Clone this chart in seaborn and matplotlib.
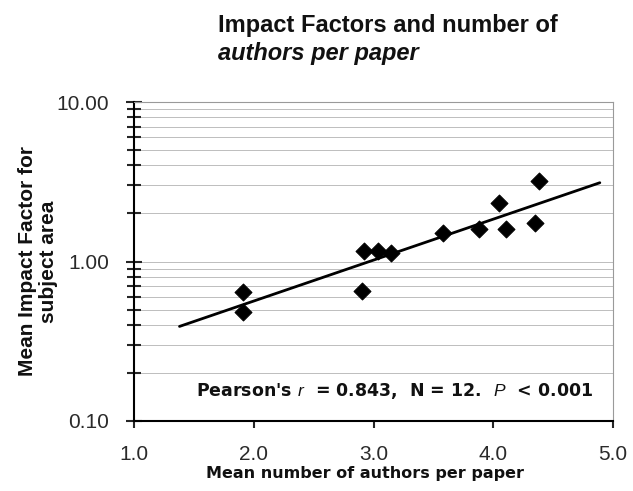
import numpy as np
import pandas as pd
import matplotlib
matplotlib.use('Agg')
import matplotlib.pyplot as plt
import matplotlib.ticker as mticker
import seaborn as sns

# DATA
authors = [1.91, 1.91, 2.92, 3.04, 3.15, 2.90, 3.58, 3.88, 4.05, 4.11, 4.35, 4.38]
impact = [0.64, 0.48, 1.16, 1.16, 1.13, 0.65, 1.50, 1.59, 2.33, 1.60, 1.75, 3.19]
fit_range = [1.38, 4.89]  # extent of the drawn regression line
xticks = [1.0, 2.0, 3.0, 4.0, 5.0]
xtick_labels = ['1.0', '2.0', '3.0', '4.0', '5.0']
yticks = [0.1, 1.0, 10.0]
ytick_labels = ['0.10', '1.00', '10.00']
stats_text = "Pearson's $\\it{r}$  = 0.843,  N = 12.  $\\it{P}$  < 0.001"

df = pd.DataFrame({'authors': authors, 'impact': impact})

# exponential fit (straight line on the log axis)
slope, icpt = np.polyfit(df['authors'], np.log10(df['impact']), 1)
fit_x = np.array(fit_range)
df_fit = pd.DataFrame({'authors': fit_x, 'impact': 10 ** (icpt + slope * fit_x)})

sns.set_theme(style='white')
plt.rcParams['font.family'] = ['Liberation Sans', 'DejaVu Sans']
plt.rcParams['mathtext.fontset'] = 'custom'
plt.rcParams['mathtext.it'] = 'Liberation Sans:italic'
plt.rcParams['mathtext.rm'] = 'DejaVu Sans:bold'

fig, ax = plt.subplots(figsize=(6.33, 4.91), dpi=100)
fig.subplots_adjust(left=134/633, right=613/633, top=1-102/491, bottom=1-421/491)

ax.set_yscale('log')
ax.set_xlim(1, 5)
ax.set_ylim(0.1, 10)

# gridlines at every major/minor y tick
ax.yaxis.set_minor_locator(mticker.LogLocator(base=10, subs=np.arange(2, 10)))
ax.grid(axis='y', which='both', color='#bdbdbd', linewidth=0.7, linestyle='-')
ax.grid(axis='x', visible=False)
ax.set_axisbelow(True)

sns.lineplot(data=df_fit, x='authors', y='impact', ax=ax, color='black', linewidth=2)
sns.scatterplot(data=df, x='authors', y='impact', ax=ax, marker='D', s=75,
                color='black', edgecolor='black', zorder=3)

ax.set_xticks(xticks)
ax.set_xticklabels(xtick_labels)
ax.set_yticks(yticks)
ax.yaxis.set_major_formatter(mticker.FixedFormatter(ytick_labels))
ax.yaxis.set_minor_formatter(mticker.NullFormatter())

ax.tick_params(axis='x', which='major', direction='out', length=5, width=1.5,
               pad=12, labelsize=15, labelcolor='#2a2a2a', bottom=True)
ax.tick_params(axis='y', which='major', direction='inout', length=12, width=1.5,
               pad=12, labelsize=15, labelcolor='#2a2a2a', left=True)
ax.tick_params(axis='y', which='minor', direction='inout', length=10, width=1.5, left=True)

for s in ['left', 'bottom']:
    ax.spines[s].set_color('black')
    ax.spines[s].set_linewidth(1.5)
for s in ['top', 'right']:
    ax.spines[s].set_color('#9a9a9a')
    ax.spines[s].set_linewidth(0.8)

ax.set_xlabel('Mean number of authors per paper', fontsize=11.5, fontweight='bold',
              family='DejaVu Sans', va='baseline', color='#111111')
ax.xaxis.set_label_coords((365-134)/479, (421-478)/319)
ax.set_ylabel('Mean Impact Factor for\nsubject area', fontsize=15, fontweight='bold',
              color='#111111', linespacing=1.1)
ax.yaxis.set_label_coords((58-134)/479, 0.5)

ax.text((395-134)/479, (421-396)/319, stats_text, transform=ax.transAxes,
        ha='center', va='baseline', fontsize=12.5, fontweight='bold',
        family='DejaVu Sans', color='#111111')

fig.text(218/633, 1-32/491, 'Impact Factors and number of', fontsize=17,
         fontweight='bold', ha='left', va='baseline', color='#111111')
fig.text(218/633, 1-60/491, 'authors per paper', fontsize=17, fontweight='bold',
         style='italic', ha='left', va='baseline', color='#111111')

fig.savefig('out.png', dpi=100, facecolor='white')
